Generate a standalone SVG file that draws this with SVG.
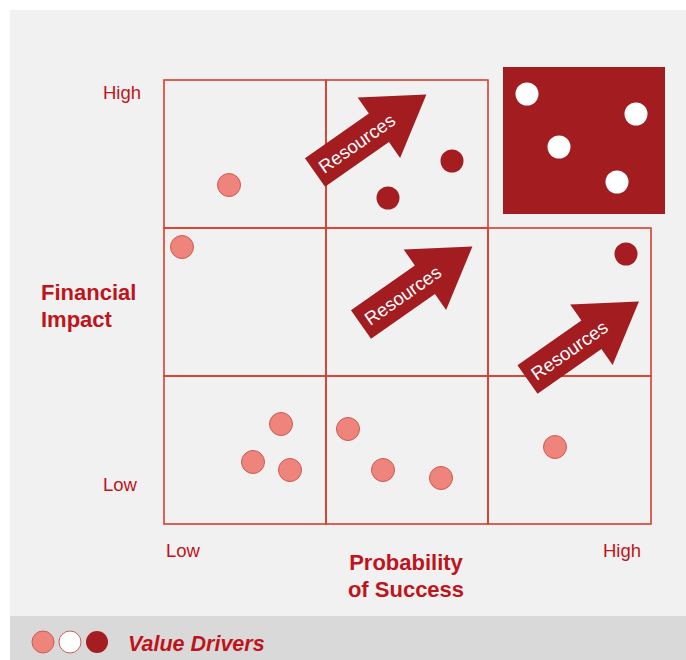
<svg xmlns="http://www.w3.org/2000/svg" width="686" height="660" viewBox="0 0 686 660">
<style>
  .cell{fill:none;stroke:#d8402e;stroke-width:1.6}
  .pink{fill:#ef847c;stroke:#cf5a52;stroke-width:1}
  .dark{fill:#a51d21}
  .white{fill:#ffffff}
  .axis{font-family:"Liberation Sans",Arial,sans-serif;font-size:18.5px;fill:#c0141c}
  .title{font-family:"Liberation Sans",Arial,sans-serif;font-size:22px;font-weight:bold;fill:#c0141c}
  .arrow{fill:#a21c20}
  .atext{font-family:"Liberation Sans",Arial,sans-serif;font-size:18.5px;fill:#ffffff}
</style>
<defs>
  <path id="arr" class="arrow" d="M0,-17.5 L78,-17.5 L78,-37 L136,0 L78,37 L78,17.5 L0,17.5 Z"/>
</defs>
<rect x="0" y="0" width="686" height="660" fill="#ffffff"/>
<rect x="10" y="10" width="676" height="606" fill="#f1f1f1"/>
<rect x="10" y="616" width="676" height="44" fill="#d9d9d9"/>

<g id="grid">
  <rect class="cell" x="164" y="80" width="162" height="148"/>
  <rect class="cell" x="326" y="80" width="162" height="148"/>
  <rect class="cell" x="164" y="228" width="162" height="148"/>
  <rect class="cell" x="326" y="228" width="162" height="148"/>
  <rect class="cell" x="488" y="228" width="163" height="148"/>
  <rect class="cell" x="164" y="376" width="162" height="148"/>
  <rect class="cell" x="326" y="376" width="162" height="148"/>
  <rect class="cell" x="488" y="376" width="163" height="148"/>
</g>

<g id="top-right-box">
  <rect x="503" y="67" width="162" height="147" fill="#a21c20"/>
  <circle class="white" cx="527" cy="94" r="11.5"/>
  <circle class="white" cx="636" cy="114" r="11.5"/>
  <circle class="white" cx="559" cy="147" r="11.5"/>
  <circle class="white" cx="617" cy="182" r="11.5"/>
</g>

<g id="arrow1">
  <g transform="translate(315,172.5) rotate(-35)">
    <use href="#arr"/>
    <text class="atext" x="51" y="6.5" text-anchor="middle">Resources</text>
  </g>
</g>
<g id="arrow2">
  <g transform="translate(361,324.5) rotate(-35)">
    <use href="#arr"/>
    <text class="atext" x="51" y="6.5" text-anchor="middle">Resources</text>
  </g>
</g>
<g id="arrow3">
  <g transform="translate(527.5,379.5) rotate(-35)">
    <use href="#arr"/>
    <text class="atext" x="51" y="6.5" text-anchor="middle">Resources</text>
  </g>
</g>

<g id="drivers">
  <circle class="pink" cx="229" cy="185" r="11.5"/>
  <circle class="pink" cx="182" cy="247" r="11.5"/>
  <circle class="dark" cx="452" cy="161" r="11.5"/>
  <circle class="dark" cx="388" cy="198" r="11.5"/>
  <circle class="dark" cx="626" cy="254" r="11.5"/>
  <circle class="pink" cx="281" cy="424" r="11.5"/>
  <circle class="pink" cx="253" cy="462" r="11.5"/>
  <circle class="pink" cx="290" cy="470" r="11.5"/>
  <circle class="pink" cx="348" cy="429" r="11.5"/>
  <circle class="pink" cx="383" cy="470" r="11.5"/>
  <circle class="pink" cx="441" cy="478" r="11.5"/>
  <circle class="pink" cx="555" cy="447" r="11.5"/>
</g>

<g id="labels">
  <text class="axis" x="103" y="99">High</text>
  <text class="axis" x="103" y="491">Low</text>
  <text class="axis" x="166" y="557">Low</text>
  <text class="axis" x="603" y="557">High</text>
  <text class="title" x="41" y="300">Financial</text>
  <text class="title" x="41" y="327">Impact</text>
  <text class="title" x="406" y="570" text-anchor="middle">Probability</text>
  <text class="title" x="406" y="597" text-anchor="middle">of Success</text>
</g>

<g id="legend">
  <circle class="pink" cx="43" cy="642" r="11"/>
  <circle cx="70" cy="642" r="11" fill="#ffffff" stroke="#cf5a52" stroke-width="1"/>
  <circle class="dark" cx="97" cy="642" r="11"/>
  <text x="128" y="651" font-family="Liberation Sans, Arial, sans-serif" font-size="21.5" font-weight="bold" font-style="italic" fill="#c0141c">Value Drivers</text>
</g>
</svg>
